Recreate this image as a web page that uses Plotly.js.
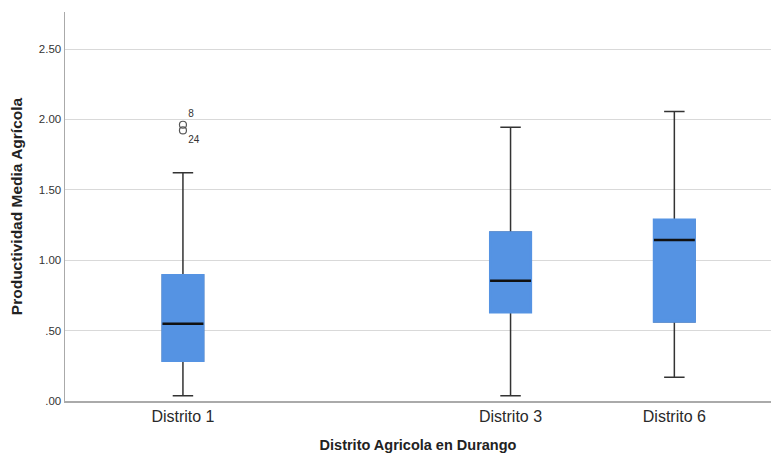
<!DOCTYPE html>
<html>
<head>
<meta charset="utf-8">
<script src="https://cdn.plot.ly/plotly-3.0.1.min.js"></script>
<style>html,body{margin:0;padding:0;background:#fff;}#chart{width:771px;height:453px;}</style>
</head>
<body>
<div id="chart"></div>
<script>
// Data
const categories = ["Distrito 1", "Distrito 3", "Distrito 6"];
const positions = [0, 2, 3];
const lowerWhisker = [0.038, 0.038, 0.168];
const q1Values = [0.284, 0.630, 0.563];
const medianValues = [0.549, 0.855, 1.143];
const q3Values = [0.895, 1.198, 1.288];
const upperWhisker = [1.621, 1.944, 2.057];
const outlierX = [0, 0];
const outlierY = [1.962, 1.922];
const outlierLabels = ["8", "24"];
const yTickVals = [0, 0.5, 1, 1.5, 2, 2.5];
const yTickText = [".00", ".50", "1.00", "1.50", "2.00", "2.50"];

const boxWidth = 0.25;
const blue = "#5593E3";

// whiskers + caps (dark)
const whiskers = {
  type: "box", x: positions, q1: q1Values, median: medianValues, q3: q3Values,
  lowerfence: lowerWhisker, upperfence: upperWhisker,
  width: boxWidth, whiskerwidth: 0.5,
  fillcolor: blue, line: {color: "#333333", width: 1.5},
  boxpoints: false, hoverinfo: "skip", showlegend: false
};
// blue IQR box covering the dark outline
const boxes = {
  type: "box", x: positions, q1: q1Values, median: q1Values, q3: q3Values,
  lowerfence: q1Values, upperfence: q3Values,
  width: boxWidth, whiskerwidth: 0,
  fillcolor: blue, line: {color: blue, width: 2.2},
  boxpoints: false, hoverinfo: "skip", showlegend: false
};
// median lines
const medX = [], medY = [];
positions.forEach((p, i) => {
  medX.push(p - boxWidth / 2, p + boxWidth / 2, null);
  medY.push(medianValues[i], medianValues[i], null);
});
const medians = {
  type: "scatter", mode: "lines", x: medX, y: medY,
  line: {color: "#111111", width: 2.5}, hoverinfo: "skip", showlegend: false
};
const outliers = {
  type: "scatter", mode: "markers+text", x: outlierX, y: outlierY,
  text: outlierLabels, textposition: ["top right", "bottom right"],
  textfont: {family: "Liberation Sans, Arial, sans-serif", size: 10, color: "#333"},
  marker: {symbol: "circle-open", size: 7, color: "#555", line: {width: 1.2, color: "#555"}},
  hoverinfo: "skip", showlegend: false
};

const layout = {
  width: 771, height: 453,
  margin: {l: 65, r: 0, t: 12, b: 52},
  paper_bgcolor: "#fff", plot_bgcolor: "#fff",
  font: {family: "Liberation Sans, Arial, sans-serif", color: "#333"},
  xaxis: {
    range: [-0.72, 3.59], tickvals: positions, ticktext: categories,
    tickfont: {size: 16, color: "#2a2a2a"}, showgrid: false, zeroline: false,
    showline: true, linecolor: "#aaaaaa", linewidth: 1.5, ticks: "",
    title: {text: "<b>Distrito Agricola en Durango</b>", font: {size: 14.5, color: "#222"}, standoff: 16}
  },
  yaxis: {
    range: [0, 2.763], tickvals: yTickVals, ticktext: yTickText,
    tickfont: {size: 11.5, color: "#333"}, showgrid: true, gridcolor: "#d9d9d9", gridwidth: 1,
    zeroline: false, showline: true, linecolor: "#aaaaaa", linewidth: 1.5, ticks: "",
    title: {text: "<b>Productividad Media Agrícola</b>", font: {size: 15.5, color: "#222"}, standoff: 12}
  },
  showlegend: false
};

Plotly.newPlot("chart", [whiskers, boxes, medians, outliers], layout, {displayModeBar: false, staticPlot: true});
</script>
</body>
</html>
